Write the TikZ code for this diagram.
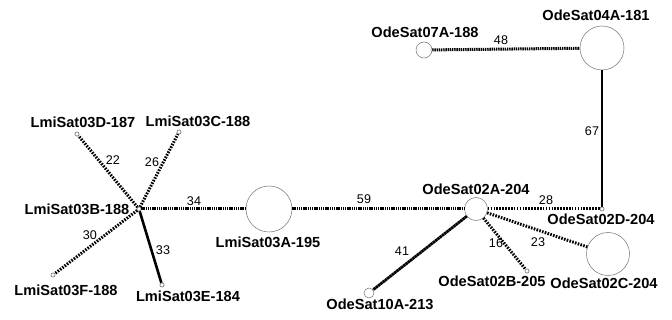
\documentclass[tikz,border=0pt]{standalone}
\usepackage{fontspec}
\setmainfont{Liberation Sans}
\begin{document}
\begin{tikzpicture}[x=1pt,y=-1pt,
  hap/.style={circle,draw=black!55,line width=0.5pt,inner sep=0pt,minimum size=#1,fill=white},
  lab/.style={font=\bfseries\fontsize{14.6}{16}\selectfont,inner sep=0pt},
  num/.style={font=\fontsize{12.6}{14}\selectfont,inner sep=0pt},
  dense/.style={line width=3pt,dash pattern=on 1.4pt off 0.8pt},
  sparse/.style={line width=3pt,dash pattern=on 1.6pt off 1.3pt},
  nearsolid/.style={line width=2.8pt,dash pattern=on 2.4pt off 0.5pt},
  plain/.style={line width=2.6pt}]
\useasboundingbox (0,0) rectangle (672,320);

% haplotype circles
\node[hap=4pt]  (b3) at (139,209) {};
\node[hap=4pt]  (d3) at (77,134) {};
\node[hap=4pt]  (c3) at (179,132) {};
\node[hap=4pt]  (f3) at (53,275) {};
\node[hap=4pt]  (e3) at (162,285) {};
\node[hap=46pt] (a3) at (269,209) {};
\node[hap=23pt] (a2) at (476,209) {};
\node[hap=10pt] (a10) at (369,293) {};
\node[hap=4pt]  (d2) at (602,209) {};
\node[hap=4pt]  (b2) at (527,271) {};
\node[hap=43pt] (c2) at (608,254) {};
\node[hap=44pt] (a4) at (602,48) {};
\node[hap=16pt] (a7) at (424,50) {};

% connectors
\draw[sparse] (b3) -- (d3);
\draw[sparse] (b3) -- (c3);
\draw[sparse] (b3) -- (f3);
\draw[plain]  (b3) -- (e3);
\draw[dense]  (b3) -- (a3);
\draw[dense]  (a3) -- (a2);
\draw[nearsolid] (a2) -- (a10);
\draw[sparse] (a2) -- (d2);
\draw[sparse] (a2) -- (b2);
\draw[sparse] (a2) -- (c2);
\draw[plain]  (a4) -- (d2);
\draw[dense]  (a7) -- (a4);

% redraw small circles on top
\foreach \n in {b3,d3,c3,f3,e3,d2,b2}
  \draw[black!55,line width=0.5pt,fill=white] (\n) circle (2pt);

% names
\node[lab] (lb3) at (77,209) {LmiSat03B-188};
\node[lab] (ld3) at (83,122) {LmiSat03D-187};
\node[lab] (lc3) at (198,121) {LmiSat03C-188};
\node[lab] (lf3) at (66,290) {LmiSat03F-188};
\node[lab] (le3) at (188,296) {LmiSat03E-184};
\node[lab] (la3) at (268,242) {LmiSat03A-195};
\node[lab] (la7) at (425,32) {OdeSat07A-188};
\node[lab] (la4) at (596,15) {OdeSat04A-181};
\node[lab] (la2) at (476,189) {OdeSat02A-204};
\node[lab] (ld2) at (601,219) {OdeSat02D-204};
\node[lab] (lb2) at (492,281) {OdeSat02B-205};
\node[lab] (lc2) at (604,283) {OdeSat02C-204};
\node[lab] (la10) at (380,304) {OdeSat10A-213};

% step counts
\node[num] (n22) at (113,160) {22};
\node[num] (n26) at (152,162) {26};
\node[num] (n34) at (194,201) {34};
\node[num] (n30) at (90,235) {30};
\node[num] (n33) at (163,250) {33};
\node[num] (n59) at (364,199.5) {59};
\node[num] (n28) at (546,200.5) {28};
\node[num] (n16) at (496,243) {16};
\node[num] (n23) at (538,242) {23};
\node[num] (n41) at (402,251) {41};
\node[num] (n48) at (501,40.5) {48};
\node[num] (n67) at (592,131) {67};
\end{tikzpicture}
\end{document}
